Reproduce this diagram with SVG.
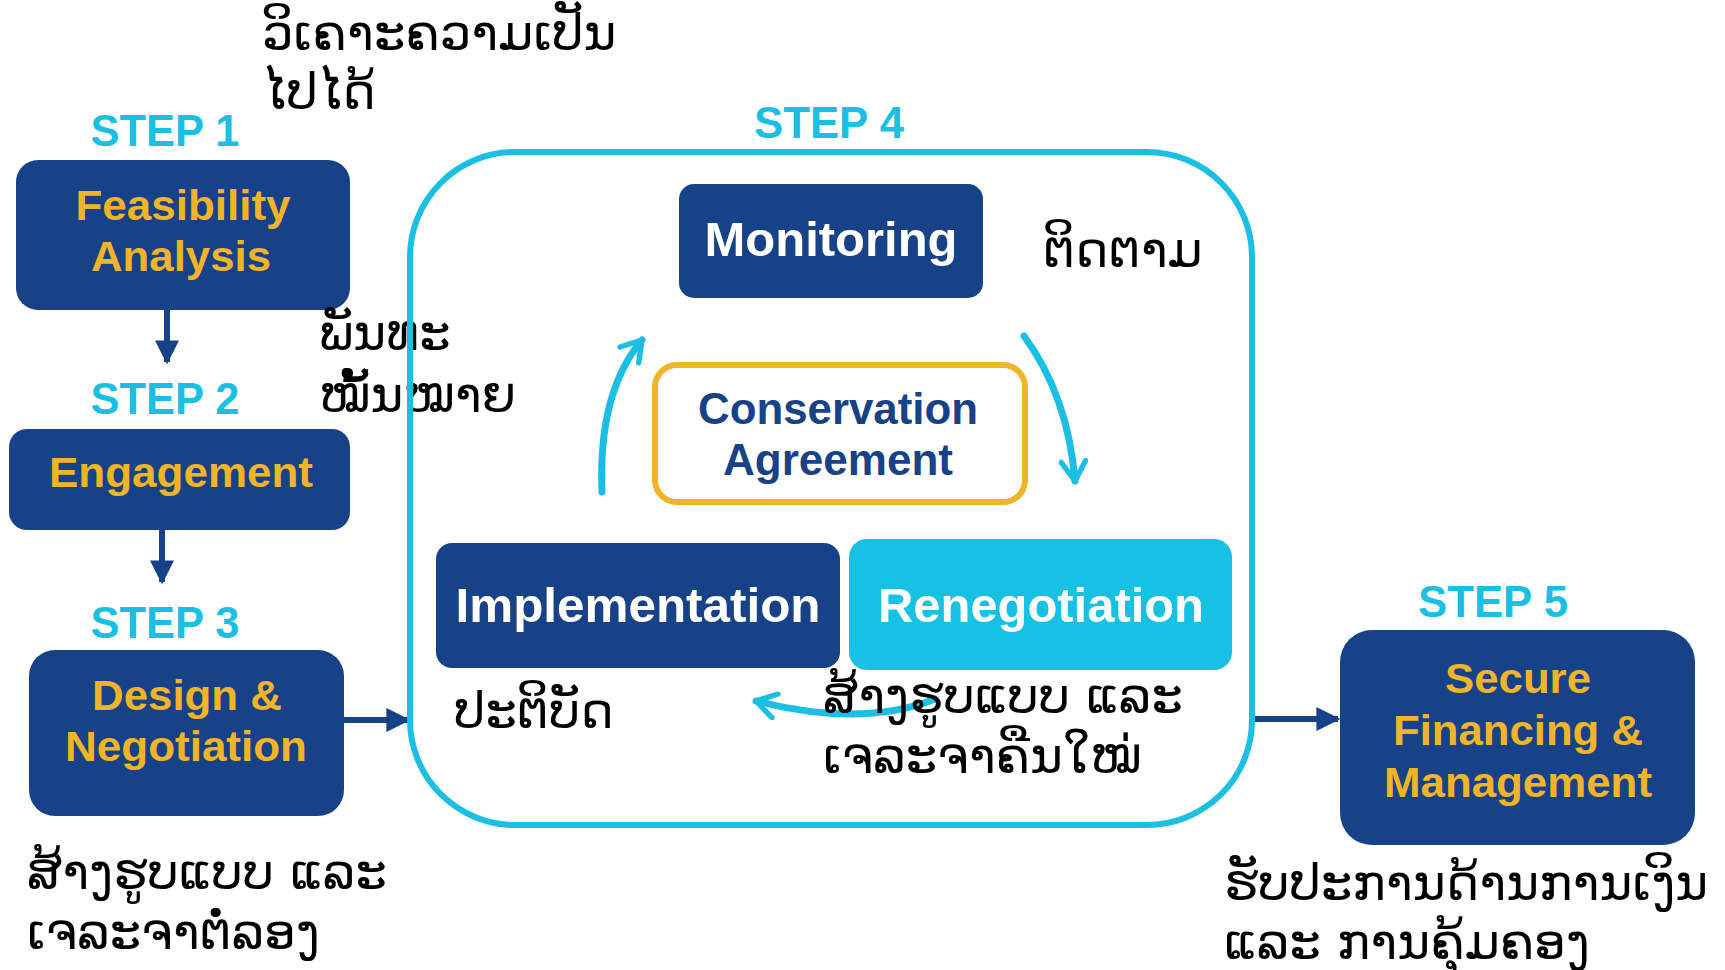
<svg xmlns="http://www.w3.org/2000/svg" width="1725" height="970" viewBox="0 0 1725 970">
  <defs>
    <style>
      .navy { fill: #174287; }
      .step { font-family: "Liberation Sans", Arial, sans-serif; font-weight: bold; font-size: 44px; fill: #1cbfe4; text-anchor: middle; }
      .gold { font-family: "Liberation Sans", Arial, sans-serif; font-weight: bold; font-size: 43px; fill: #f0b429; text-anchor: middle; }
      .white { font-family: "Liberation Sans", Arial, sans-serif; font-weight: bold; font-size: 48px; fill: #ffffff; text-anchor: middle; }
      .dark { font-family: "Liberation Sans", Arial, sans-serif; font-weight: bold; font-size: 44px; fill: #174287; text-anchor: middle; }
      .lao { font-family: "DejaVu Sans", "Noto Sans", sans-serif; font-size: 50px; fill: #000000; }
      .flow { stroke: #174287; stroke-width: 6; fill: none; }
      .cycle { stroke: #1cbfe4; stroke-width: 7; fill: none; stroke-linecap: round; }
    </style>
    <marker id="navyHead" viewBox="0 0 10 10" refX="9" refY="5" markerWidth="4" markerHeight="4" orient="auto" markerUnits="strokeWidth">
      <path d="M0,0 L10,5 L0,10 Z" fill="#174287"/>
    </marker>
    <marker id="cyanHead" viewBox="0 0 12 12" refX="10" refY="6" markerWidth="4.2" markerHeight="4.2" orient="auto" markerUnits="strokeWidth">
      <path d="M2,1 L10,6 L2,11" fill="none" stroke="#1cbfe4" stroke-width="2.2" stroke-linecap="round" stroke-linejoin="round"/>
    </marker>
  </defs>
  <rect width="1725" height="970" fill="#ffffff"/>

  <!-- Connectors -->
  <g id="connectors">
    <line class="flow" x1="167" y1="310" x2="167" y2="362" marker-end="url(#navyHead)"/>
    <line class="flow" x1="162" y1="530" x2="162" y2="582" marker-end="url(#navyHead)"/>
    <line class="flow" x1="344" y1="720" x2="408" y2="720" marker-end="url(#navyHead)"/>
    <line class="flow" x1="1255" y1="719" x2="1338" y2="719" marker-end="url(#navyHead)"/>
    <path class="cycle" d="M602,492 Q598,392 642,340" marker-end="url(#cyanHead)"/>
    <path class="cycle" d="M1024,336 Q1068,396 1075,481" marker-end="url(#cyanHead)"/>
    <path class="cycle" d="M935,699 Q862,728 756,701" marker-end="url(#cyanHead)"/>
  </g>

  <!-- Step 1 -->
  <g id="step1">
    <text class="step" x="165" y="146" textLength="149" lengthAdjust="spacingAndGlyphs">STEP 1</text>
    <rect class="navy" x="16" y="160" width="334" height="150" rx="22"/>
    <text class="gold" x="183" y="220" textLength="215" lengthAdjust="spacingAndGlyphs">Feasibility</text>
    <text class="gold" x="181" y="271" textLength="180" lengthAdjust="spacingAndGlyphs">Analysis</text>
    <text class="lao" x="262" y="50">ວິເຄາະຄວາມເປັນ</text>
    <text class="lao" x="262" y="109">ໄປໄດ້</text>
  </g>

  <!-- Step 2 -->
  <g id="step2">
    <text class="step" x="165" y="414" textLength="149" lengthAdjust="spacingAndGlyphs">STEP 2</text>
    <rect class="navy" x="9" y="429" width="341" height="101" rx="18"/>
    <text class="gold" x="181" y="487" textLength="264" lengthAdjust="spacingAndGlyphs">Engagement</text>
    <text class="lao" x="319" y="350">ພັນທະ</text>
    <text class="lao" x="319" y="412">ໝັ້ນໝາຍ</text>
  </g>

  <!-- Step 3 -->
  <g id="step3">
    <text class="step" x="165" y="638" textLength="149" lengthAdjust="spacingAndGlyphs">STEP 3</text>
    <rect class="navy" x="29" y="650" width="315" height="166" rx="26"/>
    <text class="gold" x="187" y="710" textLength="190" lengthAdjust="spacingAndGlyphs">Design &amp;</text>
    <text class="gold" x="186" y="761" textLength="242" lengthAdjust="spacingAndGlyphs">Negotiation</text>
    <text class="lao" x="27" y="889">ສ້າງຮູບແບບ ແລະ</text>
    <text class="lao" x="27" y="949">ເຈລະຈາຕໍ່ລອງ</text>
  </g>

  <!-- Step 4 -->
  <g id="step4">
    <text class="step" x="829" y="138" textLength="150" lengthAdjust="spacingAndGlyphs">STEP 4</text>
    <rect x="410" y="152" width="842" height="673" rx="105" fill="none" stroke="#1cbfe4" stroke-width="6"/>
  </g>

  <g id="monitoring">
    <rect class="navy" x="679" y="184" width="304" height="114" rx="15"/>
    <text class="white" x="831" y="256" textLength="253" lengthAdjust="spacingAndGlyphs">Monitoring</text>
    <text class="lao" x="1043" y="267">ຕິດຕາມ</text>
  </g>

  <g id="agreement">
    <rect x="655" y="365" width="370" height="137" rx="22" fill="#ffffff" stroke="#f0b429" stroke-width="6"/>
    <text class="dark" x="838" y="424" textLength="280" lengthAdjust="spacingAndGlyphs">Conservation</text>
    <text class="dark" x="838" y="475" textLength="230" lengthAdjust="spacingAndGlyphs">Agreement</text>
  </g>

  <g id="implementation">
    <rect class="navy" x="436" y="543" width="404" height="125" rx="16"/>
    <text class="white" x="638" y="622" textLength="365" lengthAdjust="spacingAndGlyphs">Implementation</text>
    <text class="lao" x="454" y="728">ປະຕິບັດ</text>
  </g>

  <g id="renegotiation">
    <rect x="849" y="539" width="383" height="131" rx="18" fill="#17c1e4"/>
    <text class="white" x="1041" y="622" textLength="326" lengthAdjust="spacingAndGlyphs">Renegotiation</text>
    <text class="lao" x="823" y="713">ສ້າງຮູບແບບ ແລະ</text>
    <text class="lao" x="823" y="773">ເຈລະຈາຄືນໃໝ່</text>
  </g>

  <!-- Step 5 -->
  <g id="step5">
    <text class="step" x="1493" y="617" textLength="150" lengthAdjust="spacingAndGlyphs">STEP 5</text>
    <rect class="navy" x="1340" y="630" width="355" height="215" rx="32"/>
    <text class="gold" x="1518" y="693" textLength="146" lengthAdjust="spacingAndGlyphs">Secure</text>
    <text class="gold" x="1518" y="745" textLength="250" lengthAdjust="spacingAndGlyphs">Financing &amp;</text>
    <text class="gold" x="1518" y="797" textLength="268" lengthAdjust="spacingAndGlyphs">Management</text>
    <text class="lao" x="1224" y="900">ຮັບປະການດ້ານການເງິນ</text>
    <text class="lao" x="1224" y="959">ແລະ ການຄຸ້ມຄອງ</text>
  </g>
</svg>
